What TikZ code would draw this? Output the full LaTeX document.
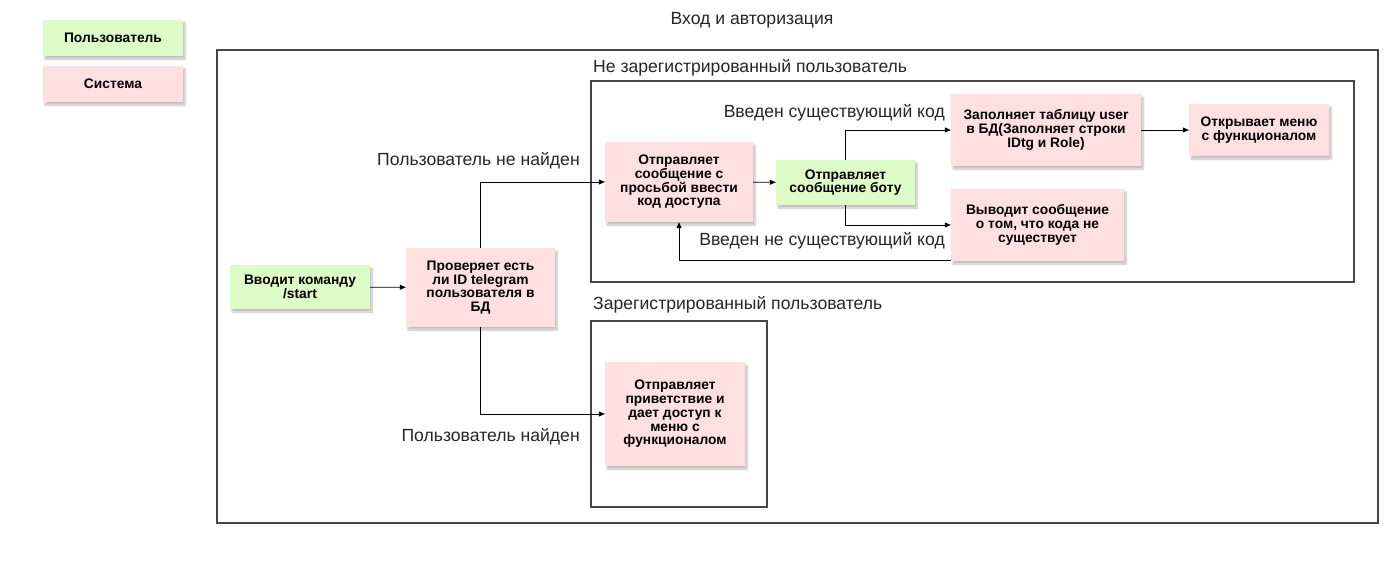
\documentclass[tikz,border=0pt]{standalone}
\usepackage{fontspec}
\setmainfont{Liberation Sans}
\usetikzlibrary{arrows.meta,shadows.blur}
\definecolor{usergreen}{RGB}{221,252,199}
\definecolor{syspink}{RGB}{255,224,224}
\definecolor{framegray}{RGB}{70,70,70}
\tikzset{
  card/.style={align=center, inner sep=0pt, draw=none,
    font=\bfseries\fontsize{13.8}{13.7}\selectfont,
    blur shadow={shadow xshift=2pt, shadow yshift=-3pt, shadow blur steps=6, shadow opacity=25}},
  usercard/.style={card, fill=usergreen},
  syscard/.style={card, fill=syspink},
  frame/.style={draw=framegray, line width=1.4pt},
  label/.style={inner sep=0pt, font=\fontsize{17.6}{20}\selectfont, text=black!85},
  link/.style={draw=black, line width=0.8pt, -{Triangle[length=6pt,width=5pt]}}
}
\begin{document}
\begin{tikzpicture}[x=1pt, y=-1pt]
  \useasboundingbox (0,0) rectangle (1397,567);

  % legend
  \node[usercard, minimum width=140pt, minimum height=36pt] (legUser) at (113,38) {Пользователь};
  \node[syscard, minimum width=140pt, minimum height=36pt] (legSys) at (113,84) {Система};

  % title and frames
  \node[label] (title) at (752,20) {Вход и авторизация};
  \draw[frame] (217,50) rectangle (1378,523);
  \draw[frame] (591,81) rectangle (1354,282);
  \draw[frame] (591,321) rectangle (767,507);
  \node[label, anchor=west] (unregLbl) at (593,68) {Не зарегистрированный пользователь};
  \node[label, anchor=west] (regLbl) at (593,305) {Зарегистрированный пользователь};

  % steps
  \node[usercard, minimum width=140pt, minimum height=44pt] (start) at (300,287)
    {Вводит команду\\/start};
  \node[syscard, minimum width=149pt, minimum height=79pt] (check) at (480.5,287.5)
    {Проверяет есть\\ли ID telegram\\пользователя в\\БД};
  \node[syscard, minimum width=148pt, minimum height=80pt] (code) at (679,182)
    {Отправляет\\сообщение с\\просьбой ввести\\код доступа};
  \node[usercard, minimum width=139pt, minimum height=45pt] (bot) at (845.5,182.5)
    {Отправляет\\сообщение боту};
  \node[syscard, minimum width=190pt, minimum height=72pt] (fill) at (1046,130)
    {Заполняет таблицу user\\в БД(Заполняет строки\\IDtg и Role)};
  \node[syscard, minimum width=140pt, minimum height=52pt] (menu) at (1259,130)
    {Открывает меню\\с функционалом};
  \node[syscard, minimum width=173pt, minimum height=72pt] (noexist) at (1037.5,225)
    {Выводит сообщение\\о том, что кода не\\существует};
  \node[syscard, minimum width=140pt, minimum height=104pt] (greet) at (675,414)
    {Отправляет\\приветствие и\\дает доступ к\\меню с\\функционалом};

  % connectors
  \draw[link] (start) -- (check);
  \draw[link] (check.north) |- (code.west);
  \draw[link] (check.south) |- (greet.west);
  \draw[link] (code) -- (bot);
  \draw[link] (bot.north) |- (fill.west);
  \draw[link] (bot.south) |- (noexist.west);
  \draw[link] (fill) -- (menu);
  \draw[link] ([yshift=1pt]noexist.south west) -| (code.south);

  % connector labels
  \node[label, anchor=east] (notFoundLbl) at (580,161) {Пользователь не найден};
  \node[label, anchor=east] (foundLbl) at (580,437) {Пользователь найден};
  \node[label, anchor=east] (validLbl) at (945,113) {Введен существующий код};
  \node[label, anchor=east] (invalidLbl) at (945,241) {Введен не существующий код};
\end{tikzpicture}
\end{document}
